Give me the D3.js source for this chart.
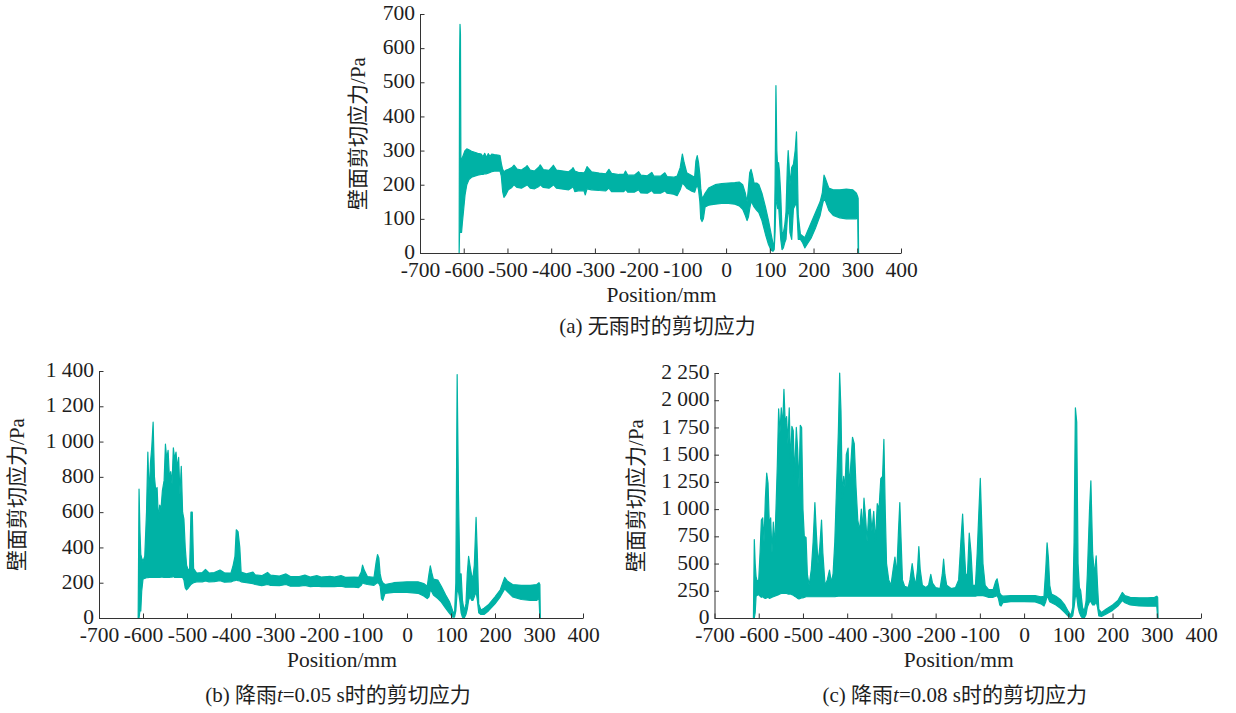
<!DOCTYPE html>
<html>
<head>
<meta charset="utf-8">
<script src="https://cdn.jsdelivr.net/npm/d3@7"></script>
<style>
  body { margin: 0; background: #fff; }
  svg { display: block; }
  text { font-family: "Liberation Serif", "Noto Sans CJK SC", serif; fill: #1e1e1e; }
</style>
</head>
<body>
<svg id="chart" width="1236" height="713"></svg>
<script>
// wall shear stress along the wall, [position mm, lower envelope Pa, upper envelope Pa]
const bandNoRain = [
  [-610.5, 0, 2], [-609.5, 60, 560], [-608.5, 60, 670], [-607.5, 60, 640], [-606.5, 60, 280],
  [-605, 60, 270], [-603, 90, 280], [-600, 130, 290], [-597, 170, 300], [-593, 200, 305],
  [-588, 215, 302], [-582, 222, 298], [-575, 225, 295], [-568, 228, 292], [-560, 230, 290],
  [-556, 230, 282], [-552, 232, 292], [-548, 232, 280], [-544, 234, 291], [-540, 236, 283],
  [-536, 238, 290], [-530, 240, 288], [-522, 240, 287], [-517, 240, 285], [-514, 225, 262],
  [-511, 180, 245], [-508, 163, 238], [-504, 170, 242], [-498, 185, 245], [-490, 192, 250],
  [-485, 200, 257], [-478, 192, 246], [-468, 190, 243], [-458, 197, 252], [-455, 200, 256],
  [-448, 190, 243], [-438, 188, 240], [-428, 195, 252], [-425, 200, 258], [-418, 192, 244],
  [-405, 190, 242], [-398, 196, 252], [-395, 200, 257], [-388, 190, 243], [-372, 187, 240],
  [-360, 185, 238], [-352, 192, 246], [-350, 195, 250], [-346, 180, 240], [-338, 182, 236],
  [-325, 182, 235], [-322, 170, 240], [-318, 188, 253], [-308, 185, 238], [-290, 183, 234],
  [-275, 182, 232], [-268, 190, 245], [-262, 180, 233], [-245, 180, 230], [-234, 180, 230],
  [-230, 186, 240], [-225, 178, 228], [-210, 178, 228], [-200, 185, 238], [-195, 176, 228],
  [-180, 175, 226], [-170, 183, 236], [-165, 175, 225], [-150, 175, 225], [-140, 182, 235],
  [-135, 175, 224], [-120, 172, 222], [-112, 168, 225], [-105, 185, 250], [-100, 205, 290],
  [-96, 200, 265], [-90, 190, 235], [-80, 182, 228], [-72, 178, 222], [-69, 190, 270],
  [-66, 200, 285], [-63, 185, 265], [-60, 150, 230], [-58, 100, 190], [-55, 92, 160],
  [-52, 100, 165], [-48, 135, 175], [-40, 140, 190], [-25, 143, 200], [-10, 145, 203],
  [5, 145, 205], [20, 143, 206], [30, 138, 208], [38, 128, 200], [44, 110, 175],
  [48, 95, 150], [51, 105, 190], [54, 130, 235], [57, 150, 245], [60, 145, 230],
  [64, 135, 205], [70, 125, 205], [75, 118, 200], [82, 95, 175], [90, 55, 135],
  [97, 25, 95], [103, 8, 55], [107, 5, 30], [110, 10, 25], [112, 60, 200],
  [114, 150, 490], [116, 150, 300], [118, 130, 250], [120, 140, 265], [122, 100, 240],
  [125, 40, 170], [128, 10, 60], [131, 15, 60], [134, 30, 80], [137, 40, 120],
  [140, 100, 250], [142, 120, 300], [144, 130, 260], [146, 60, 200], [150, 40, 250],
  [154, 130, 260], [158, 140, 300], [161, 150, 355], [163, 100, 250], [165, 40, 110],
  [170, 40, 55], [175, 30, 50], [180, 15, 45], [185, 25, 60], [195, 45, 90],
  [205, 75, 120], [215, 110, 150], [220, 140, 175], [224, 160, 228], [228, 150, 215],
  [235, 125, 190], [245, 110, 185], [260, 103, 185], [275, 100, 187], [290, 100, 185],
  [298, 100, 175], [301, 110, 165], [302, 0, 160], [303, 0, 2]
];

const bandRain005 = [
  [-611, 0, 2], [-609, 0, 730], [-607, 40, 500], [-605, 40, 360], [-603, 150, 340],
  [-600, 220, 320], [-596, 225, 350], [-592, 228, 600], [-589, 228, 940], [-586, 230, 700],
  [-583, 230, 880], [-580, 230, 970], [-577, 232, 1110], [-574, 230, 800], [-571, 230, 720],
  [-568, 232, 740], [-565, 230, 560], [-562, 230, 640], [-559, 232, 620], [-556, 232, 720],
  [-552, 230, 780], [-549, 232, 985], [-546, 230, 900], [-543, 232, 950], [-540, 230, 800],
  [-537, 232, 830], [-534, 232, 760], [-531, 235, 965], [-528, 230, 900], [-525, 232, 940],
  [-522, 230, 850], [-519, 232, 910], [-516, 230, 700], [-513, 232, 860], [-510, 230, 600],
  [-507, 215, 560], [-504, 170, 400], [-501, 160, 300], [-497, 170, 270], [-494, 180, 280],
  [-491, 190, 600], [-488, 195, 600], [-485, 200, 280], [-478, 205, 255], [-465, 205, 258],
  [-458, 210, 275], [-450, 205, 255], [-438, 206, 258], [-425, 212, 272], [-415, 203, 256],
  [-400, 205, 255], [-395, 210, 300], [-391, 212, 350], [-388, 215, 500], [-384, 212, 490],
  [-380, 210, 400], [-377, 205, 260], [-365, 200, 250], [-350, 195, 260], [-345, 190, 245],
  [-330, 183, 240], [-317, 190, 258], [-310, 185, 243], [-290, 183, 238], [-275, 190, 250],
  [-265, 180, 235], [-245, 180, 235], [-232, 185, 243], [-220, 178, 232], [-205, 180, 240],
  [-195, 178, 232], [-175, 178, 236], [-165, 178, 232], [-150, 180, 240], [-140, 175, 230],
  [-120, 175, 232], [-110, 172, 230], [-104, 185, 260], [-101, 200, 300], [-97, 195, 270],
  [-90, 190, 235], [-75, 185, 230], [-70, 195, 320], [-67, 200, 360], [-64, 195, 340],
  [-61, 180, 250], [-58, 110, 215], [-55, 100, 200], [-50, 140, 190], [-30, 145, 200],
  [0, 145, 205], [25, 140, 205], [38, 125, 195], [46, 110, 180], [50, 120, 250],
  [53, 160, 295], [56, 150, 260], [60, 130, 220], [70, 110, 215], [78, 90, 180],
  [88, 55, 130], [97, 25, 90], [104, 5, 40], [108, 5, 20], [111, 40, 200],
  [114, 150, 1380], [117, 150, 700], [120, 100, 250], [123, 30, 250], [126, 5, 100],
  [130, 0, 40], [134, 20, 80], [137, 50, 250], [140, 100, 350], [143, 120, 300],
  [147, 100, 240], [150, 100, 230], [153, 120, 300], [157, 150, 570], [160, 100, 350],
  [163, 30, 80], [168, 20, 45], [175, 20, 55], [185, 40, 75], [200, 80, 120],
  [212, 120, 160], [222, 165, 230], [228, 150, 210], [240, 120, 190], [260, 105, 185],
  [280, 100, 185], [295, 100, 190], [300, 110, 200], [302, 0, 190], [303, 0, 2]
];

const bandRain008 = [
  [-612, 0, 2], [-610, 0, 720], [-608, 50, 500], [-606, 200, 380], [-603, 210, 330],
  [-600, 215, 350], [-597, 200, 600], [-594, 190, 900], [-591, 195, 920], [-588, 185, 700],
  [-585, 180, 1100], [-582, 185, 1330], [-579, 190, 1240], [-576, 180, 850], [-573, 185, 920],
  [-570, 190, 600], [-567, 195, 880], [-564, 200, 650], [-561, 205, 1000], [-558, 210, 1400],
  [-555, 215, 1920], [-552, 220, 1700], [-549, 225, 1930], [-546, 225, 1750], [-543, 225, 2100],
  [-540, 225, 1780], [-537, 225, 1850], [-534, 220, 1600], [-531, 220, 1930], [-528, 220, 1400],
  [-525, 215, 1760], [-522, 210, 1720], [-519, 200, 1300], [-515, 190, 1750], [-512, 180, 1550],
  [-509, 175, 1200], [-506, 180, 1770], [-503, 185, 1750], [-500, 185, 1000], [-497, 190, 750],
  [-493, 195, 740], [-490, 195, 400], [-486, 195, 300], [-481, 195, 450], [-477, 195, 700],
  [-473, 195, 1060], [-470, 195, 800], [-466, 195, 500], [-462, 195, 650], [-458, 195, 900],
  [-455, 195, 600], [-450, 195, 300], [-445, 195, 350], [-440, 195, 440], [-436, 195, 330],
  [-432, 195, 400], [-428, 195, 700], [-424, 198, 1200], [-420, 200, 1700], [-417, 200, 2250],
  [-414, 200, 1900], [-411, 200, 1100], [-408, 200, 1300], [-405, 200, 1200], [-402, 200, 1500],
  [-398, 200, 1560], [-395, 200, 1200], [-392, 200, 1400], [-388, 200, 1660], [-384, 200, 1600],
  [-380, 200, 1200], [-376, 200, 900], [-372, 200, 800], [-368, 200, 1000], [-365, 200, 800],
  [-362, 200, 1100], [-358, 200, 900], [-355, 200, 700], [-351, 200, 990], [-348, 200, 1000],
  [-344, 200, 800], [-340, 200, 980], [-336, 200, 700], [-332, 200, 1050], [-328, 200, 1000],
  [-324, 200, 1280], [-320, 200, 1300], [-317, 200, 1640], [-314, 200, 1000], [-311, 200, 500],
  [-306, 200, 350], [-301, 200, 300], [-296, 200, 450], [-292, 200, 560], [-288, 200, 400],
  [-284, 200, 800], [-281, 200, 1060], [-278, 200, 700], [-275, 200, 350], [-270, 200, 290],
  [-262, 200, 280], [-258, 200, 350], [-253, 200, 500], [-249, 200, 380], [-245, 200, 300],
  [-241, 200, 450], [-238, 200, 656], [-235, 200, 450], [-230, 200, 300], [-222, 200, 280],
  [-216, 200, 300], [-211, 200, 400], [-207, 200, 320], [-200, 200, 280], [-190, 200, 270],
  [-185, 200, 400], [-182, 200, 540], [-179, 200, 400], [-175, 200, 300], [-165, 200, 270],
  [-155, 200, 280], [-148, 200, 350], [-143, 200, 700], [-139, 200, 955], [-136, 200, 700],
  [-132, 200, 400], [-128, 200, 400], [-124, 200, 780], [-120, 200, 600], [-116, 200, 300],
  [-110, 200, 300], [-106, 205, 600], [-102, 205, 1000], [-99, 205, 1282], [-96, 205, 900],
  [-93, 205, 500], [-88, 200, 300], [-80, 190, 260], [-70, 190, 260], [-64, 200, 340],
  [-61, 205, 360], [-58, 180, 300], [-55, 120, 230], [-52, 110, 210], [-48, 140, 200],
  [-30, 150, 205], [0, 150, 205], [25, 148, 205], [38, 130, 195], [45, 110, 200],
  [49, 150, 450], [52, 200, 690], [55, 180, 550], [58, 150, 300], [62, 140, 220],
  [72, 120, 200], [82, 90, 170], [92, 50, 120], [100, 15, 60], [106, 5, 25],
  [110, 20, 100], [113, 100, 700], [116, 200, 1930], [119, 200, 1800], [122, 100, 500],
  [125, 50, 280], [128, 20, 250], [132, 0, 100], [136, 0, 60], [140, 30, 150],
  [143, 100, 400], [148, 150, 1000], [151, 150, 1260], [155, 120, 600], [159, 120, 400],
  [163, 150, 570], [166, 100, 300], [169, 20, 80], [175, 15, 50], [185, 35, 80],
  [200, 70, 120], [212, 110, 160], [222, 160, 235], [228, 140, 205], [240, 120, 190],
  [260, 110, 185], [280, 108, 185], [295, 108, 190], [300, 110, 200], [302, 0, 190],
  [303, 0, 2]
];

const xTicks = [-700, -600, -500, -400, -300, -200, -100, 0, 100, 200, 300, 400];
const yTicksA = [0, 100, 200, 300, 400, 500, 600, 700];
const yTicksB = [0, 200, 400, 600, 800, 1000, 1200, 1400];
const yTicksC = [0, 250, 500, 750, 1000, 1250, 1500, 1750, 2000, 2250];

const yLabel = "壁面剪切应力/Pa";
const xLabel = "Position/mm";

const teal = "#00b2a5";
const axisColor = "#333";

const locale = d3.formatLocale({decimal: ".", thousands: " ", grouping: [3], currency: ["", ""], minus: "-"});
const fmt = locale.format(",");

const svg = d3.select("#chart");

const panels = [
  { data: bandNoRain, yTicks: yTicksA, x0: 420, x1: 901, yTop: 14, yBot: 253,
    ylx: 358, xlY: 302, capY: 333, cap: ["(a) 无雨时的剪切应力"] },
  { data: bandRain005, yTicks: yTicksB, x0: 99, x1: 583, yTop: 371, yBot: 618,
    ylx: 17, xlY: 667, capY: 702, cap: ["(b) 降雨", "t", "=0.05 s时的剪切应力"] },
  { data: bandRain008, yTicks: yTicksC, x0: 714.5, x1: 1201, yTop: 373, yBot: 618,
    ylx: 636, xlY: 667, capY: 702, cap: ["(c) 降雨", "t", "=0.08 s时的剪切应力"] }
];

panels.forEach(p => {
  const x = d3.scaleLinear().domain([xTicks[0], xTicks[xTicks.length - 1]]).range([p.x0, p.x1]);
  const y = d3.scaleLinear().domain([p.yTicks[0], p.yTicks[p.yTicks.length - 1]]).range([p.yBot, p.yTop]);
  const g = svg.append("g");

  // the band of all wall curves
  const area = d3.area()
    .x(d => x(d[0]))
    .y0(d => y(d[1]))
    .y1(d => y(d[2]));
  g.append("path")
    .datum(p.data)
    .attr("d", area)
    .attr("fill", teal)
    .attr("stroke", teal)
    .attr("stroke-width", 1.2)
    .attr("stroke-linejoin", "round");

  // minor ticks halfway
  const xMinor = d3.pairs(xTicks).map(([a, b]) => (a + b) / 2);
  const yMinor = d3.pairs(p.yTicks).map(([a, b]) => (a + b) / 2);

  const gx = g.append("g").attr("transform", `translate(0,${p.yBot})`);
  gx.call(d3.axisBottom(x).tickValues(xMinor).tickSize(-3).tickSizeOuter(0).tickFormat(""));
  gx.call(d3.axisBottom(x).tickValues(xTicks).tickSize(-4.5).tickSizeOuter(0).tickPadding(9).tickFormat(fmt));

  const gy = g.append("g").attr("transform", `translate(${p.x0},0)`);
  gy.call(d3.axisLeft(y).tickValues(yMinor).tickSize(-3).tickSizeOuter(0).tickFormat(""));
  gy.call(d3.axisLeft(y).tickValues(p.yTicks).tickSize(-4.5).tickSizeOuter(0).tickPadding(5).tickFormat(fmt));

  g.selectAll(".domain, .tick line").attr("stroke", axisColor);
  g.selectAll(".tick text")
    .attr("font-family", "Liberation Serif, serif")
    .attr("font-size", 21.5)
    .attr("fill", "#1e1e1e");
  gy.selectAll(".tick text").attr("dy", "0.26em");

  const cx = (p.x0 + p.x1) / 2;

  g.append("text")
    .attr("x", cx + 1)
    .attr("y", p.xlY)
    .attr("text-anchor", "middle")
    .attr("font-size", 21.5)
    .text(xLabel);

  g.append("text")
    .attr("transform", `translate(${p.ylx + 7},${(p.yTop + p.yBot) / 2}) rotate(-90)`)
    .attr("text-anchor", "middle")
    .attr("font-size", 21)
    .text(yLabel);

  const cap = g.append("text")
    .attr("x", cx - 3)
    .attr("y", p.capY)
    .attr("text-anchor", "middle")
    .attr("font-size", 21);
  p.cap.forEach((s, i) => {
    cap.append("tspan").text(s).attr("font-style", i === 1 ? "italic" : null);
  });
});
</script>
</body>
</html>
